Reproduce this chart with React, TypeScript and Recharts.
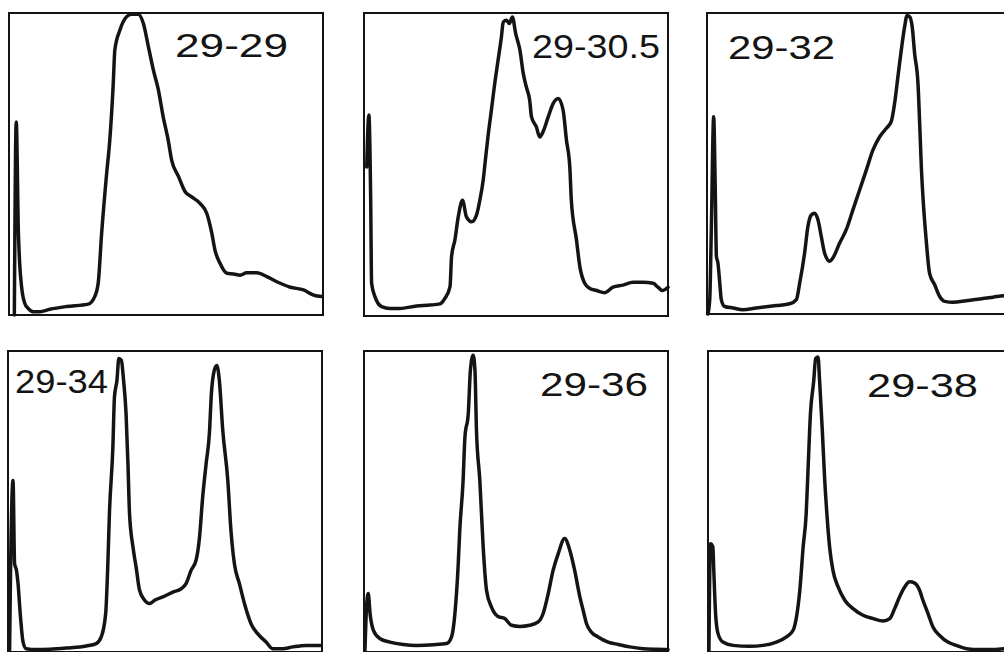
import { LineChart, Line, XAxis, YAxis, ReferenceArea } from "recharts";

/* ── traces: x = % of box width, y = % of box height ── */

const x2929 = [1.7, 2.3, 3.0, 3.4, 4.0, 5.0, 6.1, 7.7, 9.8, 13.0, 18.3, 25.2, 27.3, 28.4, 29.5, 31.1, 32.1, 33.2, 33.7, 35.3, 37.4, 39.0, 41.2, 42.8, 44.4, 46.0, 47.6, 49.1, 50.7, 51.8, 54.0, 56.1, 58.2, 60.9, 63.0, 64.6, 65.6, 67.2, 69.4, 71.5, 73.6, 75.7, 78.9, 82.1, 85.3, 89.6, 93.8, 97.0, 99.7];
const y2929 = [0, 63.9, 27.0, 17.1, 9.4, 3.9, 2.2, 1.1, 1.1, 1.9, 2.8, 3.6, 6.1, 10.5, 27.0, 46.9, 57.9, 76.6, 87.7, 94.3, 98.7, 99.6, 99.6, 96.5, 88.8, 81.0, 74.4, 65.6, 57.9, 51.3, 45.8, 40.8, 39.1, 36.9, 33.6, 27.0, 21.5, 17.1, 13.8, 13.6, 13.2, 14.0, 14.0, 12.7, 11.0, 9.2, 8.3, 6.6, 6.1];

const x2930 = [0.9, 1.6, 2.2, 2.5, 3.6, 5.8, 8.5, 11.8, 17.3, 21.7, 25.0, 26.6, 28.3, 28.8, 29.9, 31.0, 32.4, 33.7, 35.4, 37.0, 38.1, 39.2, 39.8, 40.9, 41.9, 43.0, 44.1, 45.2, 45.8, 46.9, 47.8, 48.8, 49.9, 51.3, 52.4, 53.4, 54.5, 55.1, 56.7, 57.8, 58.9, 60.6, 62.2, 63.9, 65.5, 66.6, 67.7, 68.2, 69.9, 71.0, 72.6, 74.3, 76.5, 79.2, 81.9, 85.2, 88.5, 91.8, 95.1, 96.7, 98.1, 100];
const y2930 = [49.2, 66.3, 38.2, 10.8, 6.4, 3.1, 2.5, 2.5, 3.3, 3.6, 4.0, 5.8, 9.7, 19.6, 25.1, 32.7, 38.2, 32.7, 31.1, 33.3, 38.2, 44.8, 50.3, 60.2, 67.9, 76.7, 84.4, 92.1, 97.0, 97.6, 96.5, 98.7, 93.2, 87.7, 80.0, 75.6, 71.2, 65.7, 62.4, 59.1, 60.8, 65.7, 70.1, 71.8, 67.9, 58.0, 49.2, 38.2, 25.1, 16.3, 10.8, 9.1, 8.4, 7.7, 9.5, 10.2, 11.1, 11.1, 10.8, 9.5, 8.4, 9.5];

const x2932 = [0.3, 0.9, 1.4, 2.2, 2.7, 3.1, 3.6, 4.2, 4.7, 5.8, 8.6, 11.8, 16.2, 22.8, 27.2, 29.4, 30.5, 32.1, 33.2, 34.3, 35.4, 36.5, 37.6, 38.7, 40.4, 41.4, 43.6, 45.8, 48.0, 50.2, 52.4, 54.6, 56.8, 59.0, 60.6, 61.7, 62.8, 63.9, 65.0, 65.8, 66.7, 67.5, 68.3, 69.4, 70.0, 70.5, 71.1, 72.1, 73.2, 74.9, 76.5, 78.2, 80.9, 85.3, 89.7, 94.1, 97.6, 100];
const y2932 = [0, 4.8, 26.9, 65.5, 42.3, 19.1, 16.9, 10.3, 4.8, 2.5, 2.0, 1.4, 2.0, 2.8, 3.4, 4.8, 10.3, 20.2, 29.1, 32.9, 33.5, 31.3, 25.7, 20.2, 17.5, 18.6, 23.5, 28.0, 34.6, 41.2, 47.8, 54.5, 58.9, 61.7, 63.9, 69.9, 78.8, 87.6, 95.4, 99.2, 98.7, 95.4, 86.5, 76.6, 62.2, 49.0, 37.9, 24.6, 13.6, 9.7, 5.9, 4.2, 3.9, 4.4, 5.0, 5.6, 6.1, 6.3];

const x2934 = [0.5, 0.8, 1.6, 2.1, 2.7, 3.2, 3.9, 4.8, 5.8, 9.0, 13.3, 18.6, 24.9, 28.1, 29.7, 31.1, 31.8, 32.3, 33.4, 33.9, 34.7, 35.3, 36.1, 36.8, 37.6, 38.2, 38.7, 39.8, 40.8, 41.9, 43.5, 45.1, 46.7, 49.3, 52.5, 55.1, 56.7, 58.3, 59.9, 61.0, 62.0, 63.1, 64.2, 64.7, 65.7, 66.5, 67.3, 68.4, 70.0, 71.0, 72.1, 73.7, 75.3, 77.4, 79.5, 82.2, 84.3, 87.5, 90.7, 94.9, 99.7];
const y2934 = [0, 26.0, 57.0, 29.3, 27.1, 22.7, 12.7, 3.3, 1.1, 0.8, 0.9, 1.3, 2.0, 2.8, 5.0, 12.7, 29.3, 46.0, 68.1, 84.7, 90.3, 97.5, 96.9, 90.3, 79.2, 62.6, 46.0, 34.9, 28.2, 20.5, 17.2, 16.1, 17.2, 18.3, 19.9, 21.0, 22.7, 27.1, 30.5, 38.2, 51.5, 62.6, 73.6, 84.7, 93.6, 95.2, 90.3, 73.6, 57.0, 40.4, 29.3, 22.7, 16.1, 9.4, 6.1, 3.3, 1.1, 1.1, 1.7, 2.2, 2.2];

const x2936 = [0.3, 0.9, 1.4, 2.0, 3.1, 5.3, 8.5, 12.9, 17.3, 22.8, 27.2, 28.8, 29.9, 31.0, 31.5, 32.6, 33.2, 34.3, 35.0, 35.9, 36.5, 37.0, 38.1, 39.2, 40.3, 41.9, 44.1, 46.3, 48.5, 51.3, 54.5, 57.3, 58.9, 60.6, 62.2, 63.9, 66.0, 67.7, 69.3, 71.0, 72.1, 73.2, 74.8, 77.0, 80.3, 83.6, 87.4, 91.8, 96.2, 100];
const y2936 = [0, 16.1, 19.4, 12.7, 7.2, 4.4, 3.3, 2.5, 2.2, 2.4, 2.8, 5.0, 12.7, 29.3, 40.4, 57.0, 71.4, 79.2, 93.6, 98.6, 93.6, 73.6, 57.0, 34.9, 20.5, 15.0, 11.8, 11.1, 8.9, 8.5, 8.9, 10.0, 12.7, 19.4, 27.1, 32.7, 37.7, 33.8, 27.1, 18.3, 13.8, 9.4, 6.6, 5.0, 3.3, 2.5, 1.7, 1.1, 0.9, 0.8];

const x2938 = [0.3, 0.8, 1.6, 1.9, 2.5, 3.3, 4.9, 8.2, 13.7, 18.1, 22.5, 25.8, 28.0, 29.1, 30.2, 31.3, 32.3, 32.9, 33.7, 34.8, 35.4, 36.2, 36.7, 37.6, 38.4, 39.1, 40.0, 41.1, 42.8, 45.0, 47.7, 51.0, 54.3, 57.6, 59.8, 61.4, 63.0, 64.7, 66.3, 68.0, 69.6, 70.7, 72.4, 74.0, 76.2, 78.9, 81.7, 85.0, 89.4, 93.8, 97.3, 100];
const y2938 = [0, 36.0, 34.9, 27.1, 12.7, 6.1, 3.3, 2.2, 1.9, 2.2, 3.3, 5.0, 7.2, 11.6, 20.5, 34.9, 46.0, 60.4, 79.2, 90.3, 97.5, 98.0, 90.3, 73.6, 57.0, 46.0, 34.9, 27.1, 21.6, 17.2, 14.4, 12.2, 11.1, 10.3, 11.1, 14.4, 18.3, 21.6, 23.3, 22.9, 20.5, 17.2, 12.7, 8.3, 5.5, 3.3, 2.2, 1.1, 0.8, 0.8, 1.1, 1.1];

const zip = (xs: number[], ys: number[]) => xs.map((x, i) => ({ x, y: ys[i] }));

/* ── panel layout (page px) ── */

const PANELS = [
  { label: "29-29", data: zip(x2929, y2929), left: 9, top: 13, w: 314, h: 302, lx: 175, lw: 113, ly: 57 },
  { label: "29-30.5", data: zip(x2930, y2930), left: 364, top: 13, w: 304, h: 303, lx: 532, lw: 128, ly: 58 },
  { label: "29-32", data: zip(x2932, y2932), left: 707, top: 13, w: 304, h: 301, lx: 728, lw: 107, ly: 59 },
  { label: "29-34", data: zip(x2934, y2934), left: 8, top: 351, w: 314, h: 301, lx: 15, lw: 93, ly: 393 },
  { label: "29-36", data: zip(x2936, y2936), left: 364, top: 351, w: 304, h: 301, lx: 540, lw: 108, ly: 396 },
  { label: "29-38", data: zip(x2938, y2938), left: 708, top: 351, w: 304, h: 301, lx: 867, lw: 111, ly: 397 },
];

const INK = "#141414";

function Panel({ p }: { p: (typeof PANELS)[number] }) {
  return (
    <div style={{ position: "absolute", left: p.left - 2, top: p.top - 2 }}>
      <LineChart
        width={p.w + 4}
        height={p.h + 4}
        data={p.data}
        margin={{ top: 2, right: 2, bottom: 2, left: 2 }}
      >
        <XAxis type="number" dataKey="x" domain={[0, 100]} hide />
        <YAxis type="number" domain={[0, 100]} hide />
        <ReferenceArea
          x1={0}
          x2={100}
          y1={0}
          y2={100}
          fill="none"
          stroke={INK}
          strokeWidth={2}
        />
        <Line
          type="monotoneX"
          dataKey="y"
          stroke={INK}
          strokeWidth={3.5}
          strokeLinejoin="round"
          strokeLinecap="round"
          dot={false}
          isAnimationActive={false}
        />
      </LineChart>
    </div>
  );
}

export default function App() {
  return (
    <div
      style={{
        position: "absolute",
        left: 0,
        top: 0,
        width: 1004,
        height: 652,
        overflow: "hidden",
        background: "#fff",
      }}
    >
      {PANELS.map((p) => (
        <Panel key={p.label} p={p} />
      ))}
      <svg width={1004} height={652} style={{ position: "absolute", left: 0, top: 0, pointerEvents: "none" }}>
        {PANELS.map((p) => (
          <text
            key={p.label}
            x={p.lx}
            y={p.ly}
            textLength={p.lw}
            lengthAdjust="spacingAndGlyphs"
            fontFamily="'Liberation Sans', Arial, sans-serif"
            fontSize={34}
            fill={INK}
          >
            {p.label}
          </text>
        ))}
      </svg>
    </div>
  );
}
